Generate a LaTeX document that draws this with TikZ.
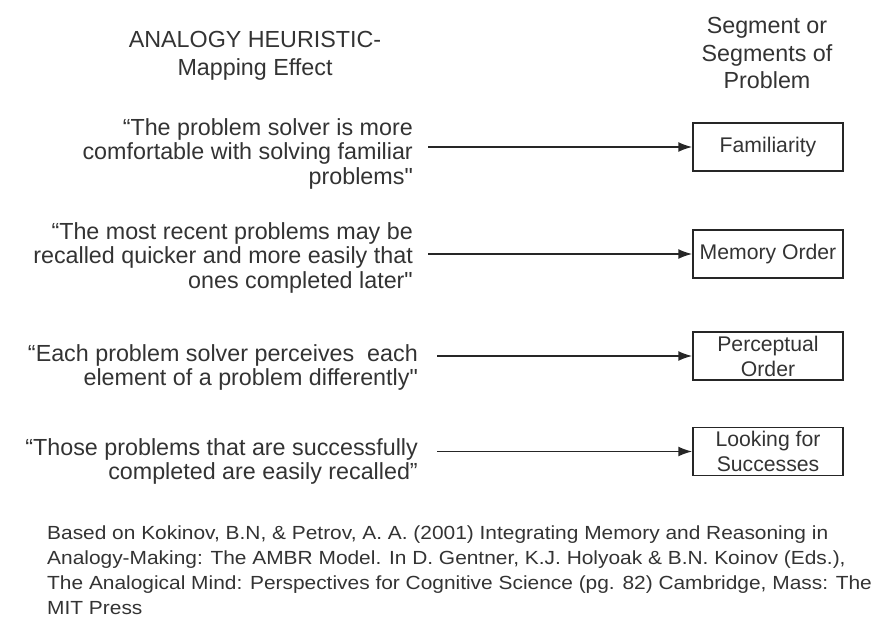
\documentclass[tikz,border=0pt]{standalone}
\usepackage{fontspec}
\setmainfont{Liberation Sans}
\newfontfamily\citefont{Liberation Sans}[FakeStretch=1.1]
\usepackage{xcolor}
\usetikzlibrary{arrows.meta}
\definecolor{inkgray}{HTML}{333333}
\newcommand{\sq}{\textquotedbl}
\begin{document}
\begin{tikzpicture}[x=1pt, y=-1pt,
  quote/.style={anchor=east, inner sep=0pt, align=right, text=inkgray,
    font=\fontsize{23.3}{24.5}\selectfont},
  head/.style={inner sep=0pt, align=center, text=inkgray,
    font=\fontsize{23.3}{27.5}\selectfont},
  segbox/.style={rectangle, draw=black!85, line width=1.5pt, minimum width=150pt,
    minimum height=48pt, inner sep=0pt, align=center, text=inkgray,
    font=\fontsize{21.2}{25}\selectfont},
  arr/.style={draw=black!85, line width=1.7pt, -{Latex[length=14pt,width=10pt]}}]

\useasboundingbox (0,0) rectangle (885,618);

\node[head] (heuristic) at (255,56) {ANALOGY HEURISTIC-\\Mapping Effect};
\node[head] (segments) at (767,53) {Segment or\\Segments of\\Problem};

\node[quote] (q1) at (413,153.5) {“The problem solver is more\\comfortable with solving familiar\\problems\sq};
\node[quote] (q2) at (413,257.5) {“The most recent problems may be\\recalled quicker and more easily that\\ones completed later\sq};
\node[quote] (q3) at (418,367.5) {“Each problem solver perceives\ \ each\\element of a problem differently\sq};
\node[quote] (q4) at (418,461.5) {“Those problems that are successfully\\completed are easily recalled”};

\node[segbox] (familiar) at (768,147) {Familiarity};
\node[segbox] (memory) at (768,254) {Memory Order};
\node[segbox] (percept) at (768,356) {Perceptual\\Order};
\node[segbox] (success) at (768,451.5) {Looking for\\Successes};

\coordinate (s1) at (428,147);
\coordinate (s2) at (428,254);
\coordinate (s3) at (437,356);
\coordinate (s4) at (437,451.5);

\draw[arr] (s1) -- (familiar);
\draw[arr] (s2) -- (memory);
\draw[arr] (s3) -- (percept);
\draw[arr] (s4) -- (success);

\node[anchor=north west, inner sep=0pt, align=left, text=inkgray,
  font=\citefont\fontsize{19}{25}\selectfont] (source) at (47,526)
  {Based on Kokinov, B.N, \& Petrov, A. A. (2001) Integrating Memory and Reasoning in\\
   Analogy-Making: The AMBR Model. In D. Gentner, K.J. Holyoak \& B.N. Koinov (Eds.),\\
   The Analogical Mind: Perspectives for Cognitive Science (pg. 82) Cambridge, Mass: The\\
   MIT Press};
\end{tikzpicture}
\end{document}
